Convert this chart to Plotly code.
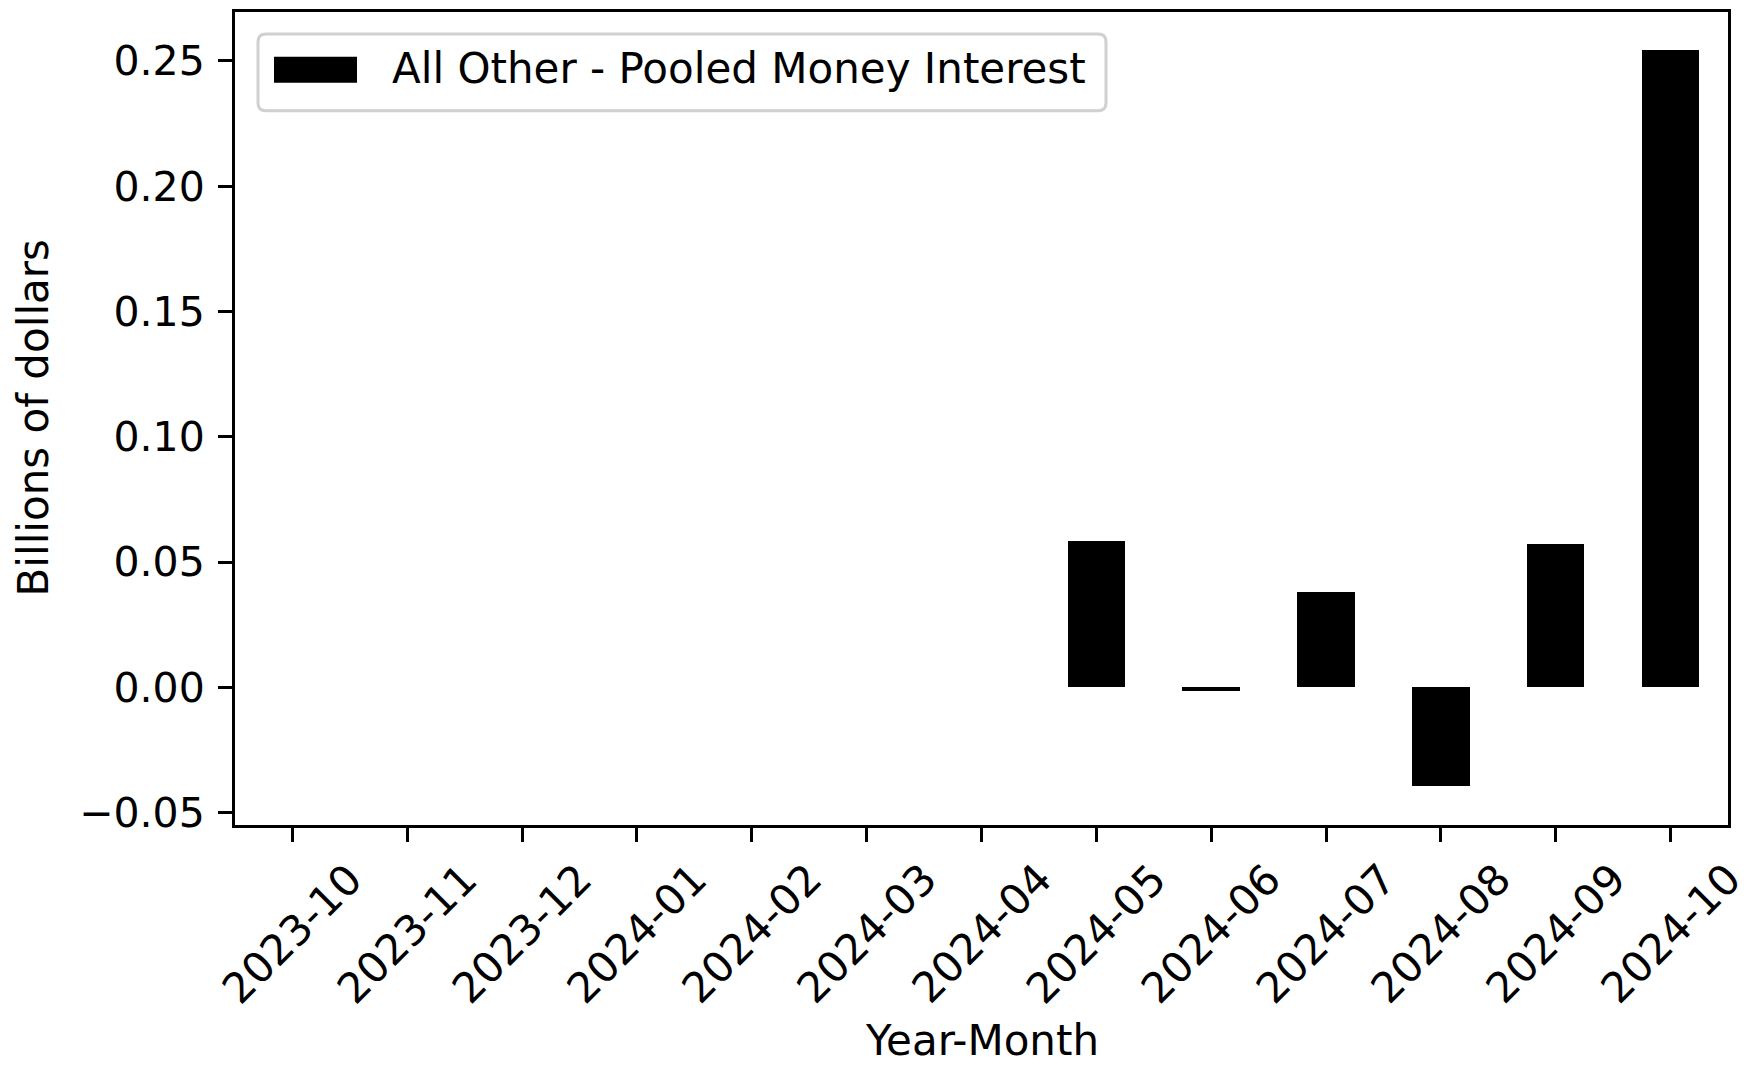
import plotly.graph_objects as go

months = ["2023-10", "2023-11", "2023-12", "2024-01", "2024-02", "2024-03", "2024-04",
          "2024-05", "2024-06", "2024-07", "2024-08", "2024-09", "2024-10"]
values = [None, None, None, None, None, None, None,
          0.0584, -0.0016, 0.0380, -0.0393, 0.0571, 0.2542]
series_name = "All Other - Pooled Money Interest"
y_ticks = [-0.05, 0.0, 0.05, 0.10, 0.15, 0.20, 0.25]
y_tick_text = ["\u22120.05", "0.00", "0.05", "0.10", "0.15", "0.20", "0.25"]

FONT = "DejaVu Sans"
FS = 42
OFF = 8  # page body margin
W, H = 1752 - OFF, 1065 - OFF
L, R, T, B = 235 - OFF, 24, 9 - OFF, 240
PW, PH = W - L - R, H - T - B

def px(x):
    return (x - OFF - L) / PW

def py(y):
    return (H - B - (y - OFF)) / PH

fig = go.Figure()
fig.add_trace(go.Bar(x=list(range(len(months))), y=values, width=0.5,
                     marker=dict(color="black", line=dict(width=0)),
                     name=series_name, showlegend=False))

fig.update_layout(
    width=W, height=H,
    margin=dict(l=L, r=R, t=T, b=B, pad=0),
    paper_bgcolor="white", plot_bgcolor="white",
    font=dict(family=FONT, size=FS, color="black"),
    bargap=0,
)
fig.update_xaxes(range=[-0.5, 12.5], tickvals=list(range(len(months))),
                 showticklabels=False, ticks="outside", ticklen=14, tickwidth=3,
                 tickcolor="black", showline=True, linecolor="black", linewidth=3,
                 mirror=True, showgrid=False, zeroline=False)
fig.update_yaxes(range=[-0.0549, 0.2695], tickvals=y_ticks, ticktext=y_tick_text,
                 ticks="outside", ticklen=14, tickwidth=3, tickcolor="black",
                 showline=True, linecolor="black", linewidth=3, mirror=True,
                 showgrid=False, zeroline=False, ticklabelstandoff=5,
                 tickfont=dict(family=FONT, size=41, color="black"))

# rotated x tick labels (matplotlib-style: centered on tick)
for i, m in enumerate(months):
    fig.add_annotation(x=i, y=0, xref="x", yref="paper", text=m, showarrow=False,
                       textangle=-45, xanchor="center", yanchor="top", yshift=-26,
                       font=dict(family=FONT, size=FS, color="black"))

# axis titles
fig.add_annotation(x=0.5, y=py(1041), xref="paper", yref="paper", text="Year-Month",
                   showarrow=False, xanchor="center", yanchor="middle", borderpad=0,
                   font=dict(family=FONT, size=FS, color="black"))
fig.add_annotation(x=px(33), y=0.5, xref="paper", yref="paper", text="Billions of dollars",
                   showarrow=False, textangle=-90, xanchor="center", yanchor="middle",
                   font=dict(family=FONT, size=FS, color="black"))

# legend box (rounded)
x0, x1, y0, y1 = px(258), px(1106), py(108), py(31)
rx, ry = 8 / PW, 8 / PH
path = (f"M {x0+rx},{y0} L {x1-rx},{y0} Q {x1},{y0} {x1},{y0+ry} "
        f"L {x1},{y1-ry} Q {x1},{y1} {x1-rx},{y1} L {x0+rx},{y1} "
        f"Q {x0},{y1} {x0},{y1-ry} L {x0},{y0+ry} Q {x0},{y0} {x0+rx},{y0} Z")
fig.add_shape(type="path", path=path, xref="paper", yref="paper",
              line=dict(color="#d0d0d0", width=3), fillcolor="rgba(255,255,255,0.8)")
fig.add_shape(type="rect", x0=px(274), x1=px(357), y0=py(80), y1=py(54),
              xref="paper", yref="paper", line=dict(width=0), fillcolor="black")
fig.add_annotation(x=px(390), y=py(66), xref="paper", yref="paper", text=series_name,
                   showarrow=False, xanchor="left", yanchor="middle",
                   font=dict(family=FONT, size=FS, color="black"))

fig.write_html("out.html")
